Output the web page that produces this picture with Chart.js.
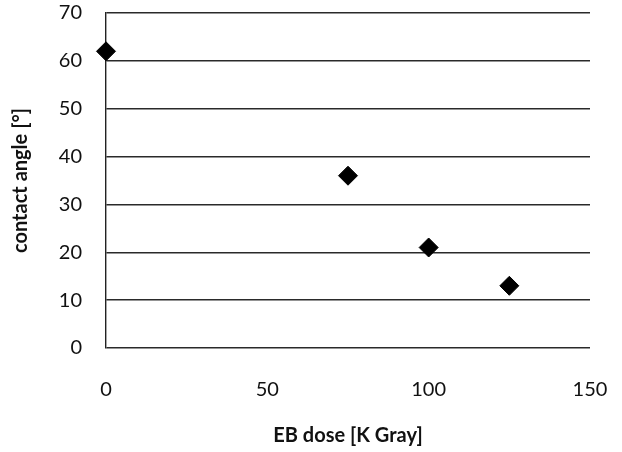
<!DOCTYPE html>
<html>
<head>
<meta charset="utf-8">
<script src="https://cdn.jsdelivr.net/npm/chart.js@4/dist/chart.umd.min.js"></script>
<style>
  html, body { margin: 0; padding: 0; background: #fff; }
  #wrap { width: 622px; height: 452px; }
</style>
</head>
<body>
<div id="wrap"><canvas id="chart"></canvas></div>
<script>
// EB dose [K Gray] vs contact angle
const doses = [0, 75, 100, 125];
const angles = [62, 36, 21, 13];
const xTicks = [0, 50, 100, 150];
const yTicks = [0, 10, 20, 30, 40, 50, 60, 70];

const points = doses.map((d, i) => ({ x: d, y: angles[i] }));

// drop the extra room chart.js keeps for the end labels, layout.padding decides instead
function noEdgePadding(axis) {
    axis.paddingTop = 0;
    axis.paddingBottom = 0;
    axis.paddingLeft = 0;
    axis.paddingRight = 0;
}

new Chart(document.getElementById('chart'), {
    type: 'scatter',
    data: {
        datasets: [{
            label: 'contact angle',
            data: points,
            pointStyle: 'rectRot',
            pointRadius: 9.5,
            pointHoverRadius: 9.5,
            backgroundColor: '#000',
            borderColor: '#000',
            borderWidth: 1,
            clip: false
        }]
    },
    options: {
        responsive: true,
        maintainAspectRatio: false,
        animation: false,
        layout: { padding: { left: 0, right: 32, top: 13, bottom: 0 } },
        plugins: {
            legend: { display: false },
            tooltip: { enabled: false }
        },
        scales: {
            x: {
                type: 'linear',
                min: 0,
                max: 150,
                afterBuildTicks: axis => { axis.ticks = xTicks.map(v => ({ value: v })); },
                grid: { display: false, drawTicks: false },
                border: { display: false },
                ticks: {
                    padding: 30,
                    color: '#111',
                    font: { family: 'Lato', size: 20 }
                },
                title: {
                    display: true,
                    text: 'EB dose [K Gray]',
                    color: '#111',
                    font: { family: 'Lato', size: 20, weight: 'bold' },
                    padding: { top: 0, bottom: 4 }
                },
                afterFit: axis => {
                    axis.height = 104;
                    noEdgePadding(axis);
                }
            },
            y: {
                min: 0,
                max: 70,
                afterBuildTicks: axis => { axis.ticks = yTicks.map(v => ({ value: v })); },
                grid: { color: '#2a2a2a', lineWidth: 1.4, drawTicks: false },
                border: { display: true, color: '#222', width: 1.4 },
                ticks: {
                    padding: 24,
                    color: '#111',
                    font: { family: 'Lato', size: 20 }
                },
                title: {
                    display: true,
                    text: 'contact angle [°]',
                    color: '#111',
                    font: { family: 'Lato', size: 20, weight: 'bold' },
                    padding: { top: 9, bottom: 0 }
                },
                afterFit: axis => {
                    axis.width = 106;
                    noEdgePadding(axis);
                }
            }
        }
    }
});
</script>
</body>
</html>
